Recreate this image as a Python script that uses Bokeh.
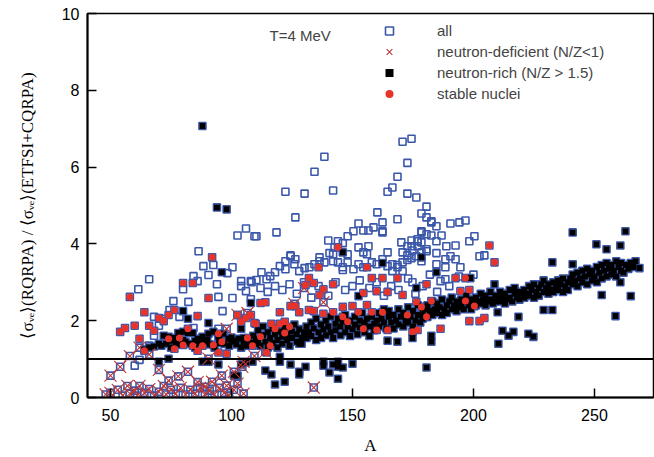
from bokeh.plotting import figure
from bokeh.models import Span, Label, Legend, LegendItem, Range1d
from bokeh.embed import file_html
from bokeh.resources import INLINE

# ---- data: (A, ratio) ----
deficient_pts = [
    (48, 0.08), (50, 0.57), (50, 0.12), (53, 0.2), (54, 0.8), (55, 0.05), (57, 0.3), (58, 1.08),
    (58, 0.1), (60, 0.18), (61, 0.05), (62, 1.3), (62, 0.3), (64, 0.12), (66, 1.12), (66, 0.22),
    (68, 0.05), (70, 0.72), (70, 0.15), (72, 0.3), (73, 0.08), (74, 0.44), (75, 0.2), (77, 0.1),
    (78, 0.55), (79, 0.25), (81, 0.08), (82, 0.67), (83, 0.2), (85, 0.1), (86, 0.4), (87, 0.25),
    (89, 0.28), (89, 0.08), (90.5, 1.01), (91, 0.18), (92, 0.41), (93, 0.08), (95, 0.25), (96, 0.57),
    (97, 0.12), (98, 0.31), (98, 1.79), (99, 0.05), (101, 0.67), (101, 0.2), (102.5, 2.15),
    (102.5, 0.36), (104.5, 0.8), (105, 0.93), (105, 0.1), (106.6, 2.2), (109.5, 1.08), (114, 1.19),
    (126, 2.44), (130, 2.85), (138, 2.48), (134, 0.26),
]

stable_pts = [
    (54, 1.71), (56, 1.81), (58, 2.62), (60, 1.87), (62, 1.53), (64, 2.22), (64, 1.22), (66, 1.87),
    (68, 1.74), (70, 2.07), (72, 1.99), (74, 2.15), (76.4, 2.28), (74, 1.53), (76.4, 1.27),
    (78.5, 1.55), (80, 1.37), (80, 2.98), (84, 2.98), (82, 1.79), (84, 1.35), (86, 2.12), (86, 1.22),
    (88, 1.35), (90.5, 2.59), (92, 3.65), (92.5, 1.37), (94.6, 1.66), (94.6, 1.17), (96, 1.45),
    (98, 1.14), (102.5, 2.15), (104, 1.97), (106, 2.07), (108, 2.15), (106.6, 1.55), (108.7, 1.35),
    (109.5, 1.94), (110, 1.92), (112, 1.58), (112, 2.46), (114, 2.48), (114.5, 1.17), (116, 1.35),
    (116.5, 1.92), (118, 1.79), (120, 2.22), (120, 1.92), (122, 1.97), (122, 1.68), (124, 1.84),
    (124.4, 2.38), (126.4, 2.38), (128, 2.22), (130.6, 2.93), (132, 3.11), (132, 2.28), (134, 2.98),
    (134, 2.25), (136, 3.39), (136.4, 2.67), (138, 2.82), (138, 2.18), (142, 2.95), (142, 2.22),
    (144, 3.91), (146, 2.36), (146, 2.1), (148, 1.97), (150, 2.38), (152.5, 2.22), (154.5, 1.79),
    (154.5, 2.72), (156, 2.41), (156, 3.39), (158, 3.11), (158, 2.22), (160, 2.77), (160, 1.76),
    (162.4, 3.11), (162.4, 2.22), (164.5, 2.75), (164.5, 1.76), (168.6, 3.11), (170.7, 2.67),
    (172.7, 2.15), (174.8, 1.71), (176.9, 1.76), (178.5, 2.36), (180.6, 2.1), (180.6, 2.95),
    (182.6, 2.51), (176.4, 2.49), (186.4, 1.79), (192.6, 3.11), (194.6, 2.77), (196.7, 3.11),
    (196.7, 2.51), (198.3, 2.8), (198.3, 1.99), (200.4, 2.38), (202.5, 1.99), (204.5, 2.07),
    (206.6, 3.96), (208.7, 3.52),
]

rich_pts = [
    (64, 1.25), (66, 1.3), (68, 1.33), (70, 1.4),
    (72, 1.61), (74, 1.58), (76, 1.55), (78, 1.68), (80, 1.71), (82, 1.68), (84, 1.68), (86, 1.53),
    (88, 1.58), (90.5, 1.66), (92.5, 1.71), (94.6, 1.58), (96.7, 1.66), (98.8, 1.53), (101, 1.48),
    (103, 1.53), (105, 1.4), (107, 1.45), (109, 1.61),
    (71, 1.35), (73, 1.4), (75, 1.3), (77, 1.42), (79, 1.38), (81, 1.45), (83, 1.4), (85, 1.3),
    (87, 1.42), (89, 1.45), (91, 1.38), (93, 1.3), (95, 1.42), (97, 1.4), (99, 1.35), (100, 1.45),
    (102, 1.38), (104, 1.3), (106, 1.35), (108, 1.42), (110, 1.4),
    (75, 1.48), (80, 1.5), (85, 1.47), (90, 1.5), (95, 1.5), (100, 1.56), (105, 1.55), (110, 1.52),
    (80, 2.25), (82, 2.05), (90.5, 1.94), (96, 3.26), (108, 2.46), (104, 1.79), (88, 7.07),
    (94, 4.95), (98, 4.9),
    (70, 0.93), (74, 1.01), (88, 0.93), (90.5, 0.93), (94.6, 0.86), (101, 0.57), (102.5, 0.57),
    (104, 0.86), (106, 0.91), (108.7, 0.93),
    (111, 1.5), (111, 1.75), (112, 1.35), (113, 1.62), (113, 1.85), (114, 1.45), (115, 1.7),
    (115, 1.3), (116, 1.55), (117, 1.8), (117, 1.42), (118, 1.65), (119, 1.5), (119, 1.3),
    (120, 1.72), (121, 1.58), (121, 1.4), (122, 1.82), (123, 1.5), (123, 1.65), (124, 1.35),
    (125, 1.72), (125, 1.55), (126, 1.9), (127, 1.45), (127, 1.65), (128, 1.78), (129, 1.55),
    (129, 1.4), (130, 1.7),
    (131, 1.85), (131, 1.55), (132, 1.7), (133, 1.95), (133, 1.6), (134, 1.8), (135, 1.5),
    (135, 2.05), (136, 1.7), (137, 1.9), (137, 1.55), (138, 1.78), (139, 2.0), (139, 1.62),
    (140, 1.85), (141, 1.7), (141, 2.1), (142, 1.55), (143, 1.92), (143, 1.75), (144, 2.05),
    (145, 1.62), (145, 1.85), (146, 1.98), (147, 1.7), (147, 2.15), (148, 1.85), (149, 1.6),
    (149, 2.0), (150, 1.78), (151, 2.1), (151, 1.9), (152, 1.65), (153, 2.0), (153, 1.82),
    (154, 2.2), (155, 1.7), (155, 1.95), (156, 2.05), (157, 1.85), (157, 1.6), (158, 2.1),
    (159, 1.92), (159, 1.75), (160, 2.0),
    (161, 2.2), (161, 1.85), (162, 2.05), (163, 1.95), (163, 2.3), (164, 1.8), (165, 2.1),
    (165, 2.25), (166, 1.95), (167, 2.15), (167, 1.8), (168, 2.0), (169, 2.3), (169, 1.9),
    (170, 2.1), (171, 1.85), (171, 2.2), (172, 2.0), (173, 2.35), (173, 1.95), (174, 2.1),
    (175, 1.85), (175, 2.25), (176, 2.0), (177, 2.15), (177, 2.4), (178, 1.95), (179, 2.2),
    (179, 2.05), (180, 2.3),
    (181, 2.1), (181, 2.4), (182, 2.25), (183, 2.15), (183, 2.5), (184, 2.3), (185, 2.2),
    (185, 2.45), (186, 2.35), (187, 2.15), (187, 2.55), (188, 2.3), (189, 2.4), (189, 2.2),
    (190, 2.5), (191, 2.3), (191, 2.6), (192, 2.4), (193, 2.25), (193, 2.5), (194, 2.35),
    (195, 2.55), (195, 2.4), (196, 2.3), (197, 2.5), (197, 2.65), (198, 2.4), (199, 2.55),
    (199, 2.3), (200, 2.5),
    (201, 2.6), (201, 2.4), (202, 2.5), (203, 2.7), (203, 2.45), (204, 2.55), (205, 2.4),
    (205, 2.65), (206, 2.5), (207, 2.75), (207, 2.55), (208, 2.45), (209, 2.65), (209, 2.5),
    (210, 2.6), (211, 2.75), (211, 2.5), (212, 2.6), (213, 2.45), (213, 2.7), (214, 2.55),
    (215, 2.8), (215, 2.6), (216, 2.5), (217, 2.7), (217, 2.85), (218, 2.6), (219, 2.75),
    (219, 2.55), (220, 2.7),
    (221, 2.8), (221, 2.6), (222, 2.7), (223, 2.9), (223, 2.65), (224, 2.8), (225, 2.6),
    (225, 2.95), (226, 2.75), (227, 2.85), (227, 2.65), (228, 2.95), (229, 2.75), (229, 3.05),
    (230, 2.85), (231, 2.7), (231, 2.95), (232, 2.8), (233, 3.0), (233, 2.75), (234, 2.9),
    (235, 3.05), (235, 2.8), (236, 2.95), (237, 2.75), (237, 3.1), (238, 2.9), (239, 3.0),
    (239, 2.8), (240, 3.1),
    (241, 2.95), (241, 3.2), (242, 3.05), (243, 2.9), (243, 3.25), (244, 3.1), (245, 3.0),
    (245, 3.3), (246, 3.15), (247, 2.95), (247, 3.35), (248, 3.2), (249, 3.05), (249, 3.3),
    (250, 3.15), (251, 3.4), (251, 3.0), (252, 3.25), (253, 3.1), (253, 3.45), (254, 3.3),
    (255, 3.15), (255, 3.5), (256, 3.35), (257, 3.2), (257, 3.45), (258, 3.3), (259, 3.55),
    (259, 3.15), (260, 3.4), (261, 3.3), (261, 3.5), (262, 3.25), (263, 3.45), (264, 3.35),
    (265, 3.5), (266, 3.4), (267, 3.55), (268.6, 3.37),
    (146, 3.78), (152.5, 2.64), (162.4, 3.5), (178.5, 3.65), (176.4, 2.85), (184.7, 3.26),
    (198.7, 3.11), (208.7, 2.95), (241, 4.3), (262.8, 4.33), (250.8, 3.99), (255, 3.86),
    (260.7, 3.96), (232.6, 3.52), (241, 3.47), (260.7, 3.0), (253, 2.67), (265, 2.64),
    (258.7, 2.12), (210, 2.22), (218.6, 2.1), (212, 1.74), (214.5, 1.61), (216.5, 1.71),
    (222.7, 1.66), (224.8, 1.58), (210.3, 1.4), (182.6, 1.61), (182.6, 1.45), (168.6, 1.45),
    (174.8, 1.55), (164.5, 1.48), (229, 2.28), (232.6, 2.28), (128, 1.4),
    (114, 0.7), (116.5, 0.6), (118, 0.34), (122, 0.41), (124.4, 0.86), (128, 0.67), (128, 0.6),
    (130.6, 0.8), (138, 0.93), (138, 0.83), (140.5, 0.65), (142, 0.86), (144, 0.93), (144, 0.8),
    (146, 0.78), (144, 0.49), (150, 0.88), (120, 1.06), (120, 0.93), (180.6, 0.78),
]

other_pts = [
    (60, 0.83), (62, 0.98), (61.5, 2.82), (66, 3.08), (76, 2.51), (82.2, 2.49), (74.4, 2.28),
    (78.5, 2.1), (68, 2.1), (72, 2.05), (70, 1.87), (68, 1.61), (66, 1.35), (84.3, 1.81),
    (72.3, 1.48), (94.6, 1.79), (94.6, 2.62), (100.4, 2.59), (96.3, 2.25), (80, 2.82), (84.3, 3.16),
    (90.5, 3.19), (98.3, 3.24), (100.4, 3.39), (92.5, 3.45), (88.4, 3.42), (86.4, 3.81),
    (102.5, 4.22), (106, 4.4), (109.5, 4.2), (104, 3.03), (108, 3.03), (104, 2.9), (106, 2.77),
    (108, 2.56), (94, 2.95), (86, 3.03),
    (110.3, 4.2), (118.6, 4.3), (122.3, 5.36), (126.4, 4.69), (112.4, 3.26), (124.4, 3.7),
    (126.4, 3.6), (120, 3.42), (122.3, 3.34), (136.4, 3.65), (140, 4.09), (146, 4.02), (148, 3.73),
    (150.4, 4.33), (152.5, 4.53), (154.5, 4.35), (156.6, 4.35), (158.7, 4.43), (160.3, 4.82),
    (162.4, 4.56), (162.4, 4.33), (164.5, 5.36), (166.5, 5.47), (168.6, 5.75), (172.7, 6.11),
    (170.7, 6.66), (174.4, 6.74), (138.4, 6.27), (134.3, 5.88), (130.2, 5.31), (142, 5.39),
    (172.7, 5.31), (176.4, 5.21), (180.6, 4.97), (168.6, 4.64), (178.5, 4.79), (180.6, 4.69),
    (182.6, 4.59), (184.7, 4.46), (190.5, 4.53), (194.2, 4.56), (196.7, 4.61), (182.6, 4.22),
    (186.8, 4.22), (184.7, 4.07), (188.8, 3.94), (192.6, 3.96), (198.3, 4.07), (200.4, 4.2),
    (202.5, 3.68), (204.5, 3.7), (170.2, 4.04), (174.4, 3.94), (176.9, 4.07), (178.5, 4.3),
    (152.5, 3.91), (156.6, 3.94), (154.5, 3.78),
    (138.4, 3.52), (142, 3.73), (144, 3.52), (148, 3.52), (150.4, 3.34), (146, 3.32),
    (148, 4.2), (144, 4.07), (142.6, 3.91), (140.5, 3.76), (136.4, 3.55), (134.3, 3.47),
    (132.2, 3.39), (130.2, 3.37), (128, 3.29), (126, 3.47), (124.4, 3.68), (122.3, 3.55),
    (118, 3.26), (116, 3.16), (114.5, 3.08), (110.3, 3.06), (108.3, 3.0),
    (142, 3.55), (146, 3.39), (152.5, 3.47), (154.5, 3.39), (156, 3.73), (158, 3.52),
    (160, 3.47), (162.4, 3.6), (164.5, 3.78), (166.5, 3.47), (168.6, 3.39), (170.7, 3.52),
    (172.7, 3.7), (174.8, 3.83), (176.9, 3.94), (178.5, 3.78), (180.6, 3.86), (180.6, 4.25),
    (178.5, 4.04), (176.9, 4.12),
    (182.6, 4.56), (178.5, 4.33), (174.4, 4.09), (172.7, 3.94), (180.6, 3.81), (184.7, 3.76),
    (188.4, 3.6), (190.5, 3.68), (192.6, 3.6), (194.6, 3.39), (188.4, 3.39), (184.7, 3.47),
    (178.5, 3.55), (176.4, 3.68), (174.4, 3.63), (172.7, 3.58), (170.7, 3.78), (162.4, 4.3),
    (186.4, 3.03), (188.4, 3.08), (174.8, 3.0), (168.6, 3.45), (166.5, 3.29), (170.7, 3.29),
    (164.5, 3.42),
    (112, 2.85), (115, 2.75), (118, 2.9), (121, 2.8), (124, 2.95), (127, 2.7), (130, 3.0),
    (133, 2.6), (136, 2.9), (140, 2.65), (143, 3.0), (147, 2.8), (150, 2.9), (153, 3.05),
    (157, 2.85), (160, 3.0), (163, 2.65), (166, 2.9), (169, 2.8), (173, 3.1), (176, 2.7),
    (179, 2.9), (182, 3.2), (185, 2.75), (190, 2.9), (194, 3.15), (200, 3.2),
]

def_A = [p[0] for p in deficient_pts]
def_R = [p[1] for p in deficient_pts]
st_A = [p[0] for p in stable_pts]
st_R = [p[1] for p in stable_pts]
rich_A = [p[0] for p in rich_pts]
rich_R = [p[1] for p in rich_pts]
all_A = [p[0] for p in other_pts] + def_A + rich_A + st_A
all_R = [p[1] for p in other_pts] + def_R + rich_R + st_R

x_ticks = [50, 100, 150, 200, 250]
y_ticks = [0, 2, 4, 6, 8, 10]

BLUE = "#3b57aa"
RED = "#e8332a"
XRED = "#b8383a"
SANS = "Liberation Sans"
SERIF = "Liberation Serif"

p = figure(width=654, height=457, output_backend="svg", toolbar_location=None,
           x_range=Range1d(40.5, 274.4), y_range=Range1d(0, 10),
           min_border_left=87, min_border_right=1, min_border_top=13, min_border_bottom=58)
p.xgrid.visible = False
p.ygrid.visible = False
p.outline_line_color = "black"
p.outline_line_width = 1.5

r_all = p.scatter(all_A, all_R, marker="square", size=7, fill_color=None,
                  line_color=BLUE, line_width=1.6)
r_rich = p.scatter(rich_A, rich_R, marker="square", size=6, fill_color="black",
                   line_color=None)
r_def = p.scatter(def_A, def_R, marker="x", size=17, line_color=XRED, line_width=1.1)
r_st = p.scatter(st_A, st_R, marker="circle", size=7, fill_color=RED, line_color=None)

p.add_layout(Span(location=1, dimension="width", line_color="black", line_width=2))

p.add_layout(Label(x=115.7, y=9.43, text="T=4 MeV", text_font=SANS, text_font_size="15px",
                   text_baseline="middle", text_align="left"))

legend = Legend(items=[
    LegendItem(label="all", renderers=[r_all]),
    LegendItem(label="neutron-deficient (N/Z<1)", renderers=[r_def]),
    LegendItem(label="neutron-rich (N/Z > 1.5)", renderers=[r_rich]),
    LegendItem(label="stable nuclei", renderers=[r_st]),
], location=(292, 293))
legend.padding = 0
legend.margin = 0
legend.spacing = 0
legend.label_height = 21
legend.glyph_height = 21
legend.glyph_width = 20
legend.label_standoff = 38
legend.border_line_color = None
legend.background_fill_alpha = 0
legend.label_text_font = SANS
legend.label_text_font_size = "15px"
p.add_layout(legend)

for ax in (p.xaxis[0], p.yaxis[0]):
    ax.axis_line_width = 2
    ax.axis_line_color = "black"
    ax.major_tick_in = 9
    ax.major_tick_out = 0
    ax.minor_tick_in = 5
    ax.minor_tick_out = 0
    ax.major_tick_line_width = 1.5
    ax.minor_tick_line_width = 1.2
    ax.major_tick_line_color = "black"
    ax.minor_tick_line_color = "black"
    ax.major_label_text_font = SANS
    ax.major_label_text_font_size = "16px"
    ax.major_label_text_color = "black"
    ax.axis_label_text_font = SERIF
    ax.axis_label_text_font_size = "17px"
    ax.axis_label_text_font_style = "normal"
    ax.axis_label_text_color = "black"

p.xaxis.ticker = x_ticks
p.xaxis[0].ticker.num_minor_ticks = 5
p.yaxis.ticker = y_ticks
p.yaxis[0].ticker.num_minor_ticks = 4
p.xaxis.major_label_standoff = 11
p.yaxis.major_label_standoff = 8
p.xaxis.axis_label = "A"
p.yaxis.axis_label = "⟨σᵥₑ⟩(RQRPA) / ⟨σᵥₑ⟩(ETFSI+CQRPA)"
p.xaxis.axis_label_standoff = 12
p.yaxis.axis_label_standoff = 22

open("out.html", "w").write(file_html(p, INLINE))
